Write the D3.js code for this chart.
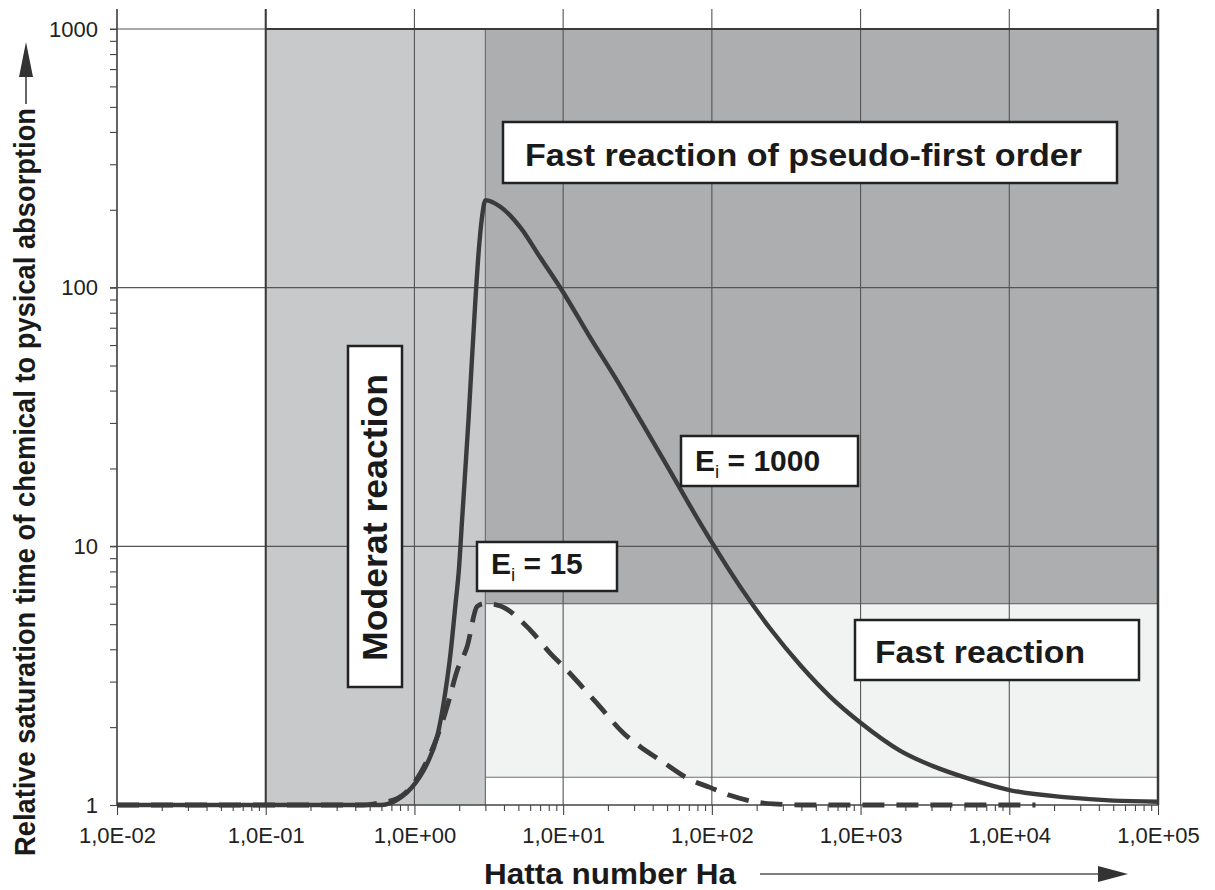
<!DOCTYPE html>
<html>
<head>
<meta charset="utf-8">
<script src="https://cdn.jsdelivr.net/npm/d3@7"></script>
<style>
  body { margin: 0; background: #fff; }
  svg { display: block; }
</style>
</head>
<body>
<div id="chart"></div>
<script>
// x axis: Hatta number (log), y axis: relative saturation time (log)
const haTicks = [1e-2, 1e-1, 1e0, 1e1, 1e2, 1e3, 1e4, 1e5];
const haTickLabels = ["1,0E-02", "1,0E-01", "1,0E+00", "1,0E+01", "1,0E+02", "1,0E+03", "1,0E+04", "1,0E+05"];
const ratioTicks = [1, 10, 100, 1000];
const ratioTickLabels = ["1", "10", "100", "1000"];

// E_i = 1000 (solid)
const haSolid = [0.01, 0.1, 0.3, 0.45, 0.59, 0.77, 1.02, 1.22, 1.42, 1.61, 1.75, 1.89, 1.99, 2.09, 2.31, 2.57, 2.71, 2.85, 3.0, 3.8, 5.2, 7.0, 10, 15, 22.5, 33, 49, 72, 100, 156, 248, 395, 626, 1000, 1850, 3100, 5200, 10200, 24500, 50000, 100000];
const e1000 = [1, 1, 1, 1, 1.0, 1.05, 1.22, 1.45, 1.83, 2.71, 3.87, 6.0, 8.1, 12.6, 30.8, 89.5, 140, 188, 218, 205, 170, 131, 96, 65, 44.7, 30.8, 20.9, 14.2, 10.35, 6.94, 4.79, 3.46, 2.62, 2.08, 1.62, 1.41, 1.27, 1.14, 1.07, 1.04, 1.03];

// E_i = 15 (dashed)
const haDashed = [0.01, 0.1, 0.3, 0.45, 0.59, 0.77, 0.99, 1.22, 1.42, 1.66, 1.94, 2.26, 2.64, 2.92, 3.6, 6.0, 8.2, 10.1, 16.9, 25.6, 33, 45, 72, 97, 132, 258, 470, 1000, 15000];
const e15 = [1, 1, 1, 1, 1.02, 1.06, 1.21, 1.49, 1.83, 2.4, 3.32, 4.09, 5.85, 6.0, 5.93, 4.75, 3.86, 3.42, 2.47, 1.89, 1.68, 1.49, 1.25, 1.17, 1.09, 1.01, 1.0, 1.0, 1.0];

// regime boundaries
const regionHa = [0.1, 3, 1e5];
const regionRatio = [1000, 6, 1.28];

const W = 1215, H = 890;
const plotL = 117, plotR = 1158, plotT = 29, plotB = 805;
const lineColor = "#3b3b3b";
const font = "'Liberation Sans', Arial, Helvetica, sans-serif";

const svg = d3.select("#chart").append("svg")
  .attr("width", W).attr("height", H)
  .style("font-family", font);

const x = d3.scaleLog().domain([1e-2, 1e5]).range([plotL, plotR]);
const y = d3.scaleLog().domain([1, 1000]).range([plotB, plotT]);

// shaded regimes
svg.append("rect")
  .attr("x", x(regionHa[0])).attr("y", y(regionRatio[0]))
  .attr("width", x(regionHa[1]) - x(regionHa[0]))
  .attr("height", y(1) - y(regionRatio[0]))
  .attr("fill", "#c8c9cb");
svg.append("rect")
  .attr("x", x(regionHa[1])).attr("y", y(regionRatio[0]))
  .attr("width", x(regionHa[2]) - x(regionHa[1]))
  .attr("height", y(regionRatio[1]) - y(regionRatio[0]))
  .attr("fill", "#adaeb0");
svg.append("rect")
  .attr("x", x(regionHa[1])).attr("y", y(regionRatio[1]))
  .attr("width", x(regionHa[2]) - x(regionHa[1]))
  .attr("height", y(regionRatio[2]) - y(regionRatio[1]))
  .attr("fill", "#f1f2f2");

// inner boundaries
const inner = svg.append("g").attr("stroke", "#707070").attr("stroke-width", 1.2);
inner.append("line")
  .attr("x1", x(regionHa[1])).attr("x2", x(regionHa[1]))
  .attr("y1", y(regionRatio[0])).attr("y2", y(1));
inner.append("line")
  .attr("x1", x(regionHa[1])).attr("x2", x(regionHa[2]))
  .attr("y1", y(regionRatio[1])).attr("y2", y(regionRatio[1]));
inner.append("line")
  .attr("x1", x(regionHa[1])).attr("x2", x(regionHa[2]))
  .attr("y1", y(regionRatio[2])).attr("y2", y(regionRatio[2]));

// grid
const grid = svg.append("g").attr("stroke", "#555").attr("stroke-width", 1.1);
grid.selectAll("line.v").data(haTicks).enter().append("line")
  .attr("x1", d => x(d)).attr("x2", d => x(d))
  .attr("y1", plotT - 20).attr("y2", plotB);
grid.selectAll("line.h").data(ratioTicks.slice(1)).enter().append("line")
  .attr("x1", plotL - 7).attr("x2", plotR)
  .attr("y1", d => y(d)).attr("y2", d => y(d));

// dark borders of the regime block
const border = svg.append("g").attr("stroke", "#3a3a3a").attr("stroke-width", 2).attr("fill", "none");
border.append("line")
  .attr("x1", x(regionHa[0])).attr("x2", x(regionHa[0]))
  .attr("y1", plotT - 20).attr("y2", plotB);
border.append("line")
  .attr("x1", x(regionHa[0])).attr("x2", plotR)
  .attr("y1", y(regionRatio[0])).attr("y2", y(regionRatio[0]));
border.append("line")
  .attr("x1", plotR).attr("x2", plotR)
  .attr("y1", plotT - 20).attr("y2", plotB)
  .attr("stroke-width", 2.5);

// axes
const minorX = x.ticks().filter(d => !haTicks.includes(d));
const minorY = y.ticks().filter(d => !ratioTicks.includes(d));

const xMinor = svg.append("g").attr("transform", `translate(0,${plotB})`)
  .call(d3.axisBottom(x).tickValues(minorX).tickSize(6).tickFormat(""));
const xMajor = svg.append("g").attr("transform", `translate(0,${plotB})`)
  .call(d3.axisBottom(x).tickValues(haTicks).tickSize(10).tickPadding(12)
    .tickFormat((d, i) => haTickLabels[i]));
const yMinor = svg.append("g").attr("transform", `translate(${plotL},0)`)
  .call(d3.axisLeft(y).tickValues(minorY).tickSize(7).tickFormat(""));
const yMajor = svg.append("g").attr("transform", `translate(${plotL},0)`)
  .call(d3.axisLeft(y).tickValues(ratioTicks).tickSize(7).tickPadding(12)
    .tickFormat((d, i) => ratioTickLabels[i]));

[xMinor, xMajor, yMinor, yMajor].forEach(g => {
  g.select(".domain").remove();
  g.selectAll(".tick line").attr("stroke", "#444").attr("stroke-width", 1.1);
  g.selectAll("text").attr("fill", "#222").style("font-size", "22px").style("font-family", font);
});

// axis lines
svg.append("line").attr("x1", plotL).attr("x2", plotL)
  .attr("y1", plotT - 20).attr("y2", plotB)
  .attr("stroke", "#444").attr("stroke-width", 1.3);
svg.append("line").attr("x1", plotL).attr("x2", plotR)
  .attr("y1", plotB).attr("y2", plotB)
  .attr("stroke", "#444").attr("stroke-width", 1.3);

// curves
const line = d3.line()
  .x(d => x(d[0]))
  .y(d => y(d[1]))
  .curve(d3.curveMonotoneX);

svg.append("path")
  .datum(d3.zip(haDashed, e15))
  .attr("d", line)
  .attr("fill", "none")
  .attr("stroke", lineColor)
  .attr("stroke-width", 4.8)
  .attr("stroke-dasharray", "22,12");

svg.append("path")
  .datum(d3.zip(haSolid, e1000))
  .attr("d", line)
  .attr("fill", "none")
  .attr("stroke", lineColor)
  .attr("stroke-width", 4.4);

// annotation boxes
function box(x0, y0, w, h) {
  svg.append("rect")
    .attr("x", x0).attr("y", y0).attr("width", w).attr("height", h)
    .attr("fill", "#fff").attr("stroke", "#222").attr("stroke-width", 2.5);
}

box(503, 122, 614, 61);
svg.append("text")
  .attr("x", 525).attr("y", 166)
  .attr("textLength", 557).attr("lengthAdjust", "spacingAndGlyphs")
  .style("font-size", "32px").style("font-weight", "bold").attr("fill", "#1a1a1a")
  .text("Fast reaction of pseudo-first order");

box(855, 620, 284, 60);
svg.append("text")
  .attr("x", 875).attr("y", 663)
  .attr("textLength", 210).attr("lengthAdjust", "spacingAndGlyphs")
  .style("font-size", "32px").style("font-weight", "bold").attr("fill", "#1a1a1a")
  .text("Fast reaction");

box(348, 346, 54, 341);
svg.append("text")
  .attr("transform", "translate(387,661) rotate(-90)")
  .attr("textLength", 287).attr("lengthAdjust", "spacingAndGlyphs")
  .style("font-size", "35px").style("font-weight", "bold").attr("fill", "#1a1a1a")
  .text("Moderat reaction");

function eiLabel(x0, y0, w, h, tx, ty, value) {
  box(x0, y0, w, h);
  const t = svg.append("text").attr("x", tx).attr("y", ty)
    .style("font-size", "30px").style("font-weight", "bold").attr("fill", "#1a1a1a");
  t.append("tspan").text("E");
  t.append("tspan").attr("dy", 7).style("font-size", "19px").style("font-weight", "normal").text("i");
  t.append("tspan").attr("dy", -7).text(" = " + value);
}
eiLabel(681, 436, 177, 50, 695, 471, "1000");
eiLabel(477, 542, 140, 49, 491, 574, "15");

// axis titles
svg.append("text")
  .attr("transform", "translate(35,856) rotate(-90)")
  .attr("textLength", 748).attr("lengthAdjust", "spacingAndGlyphs")
  .style("font-size", "29px").style("font-weight", "bold").attr("fill", "#1a1a1a")
  .text("Relative saturation time of chemical to pysical absorption");
svg.append("line").attr("x1", 26).attr("x2", 26).attr("y1", 104).attr("y2", 74)
  .attr("stroke", "#333").attr("stroke-width", 1.5);
svg.append("path").attr("d", "M26,42 L19,77 L33,77 Z").attr("fill", "#333");

svg.append("text")
  .attr("x", 484).attr("y", 884)
  .attr("textLength", 252).attr("lengthAdjust", "spacingAndGlyphs")
  .style("font-size", "30px").style("font-weight", "bold").attr("fill", "#1a1a1a")
  .text("Hatta number Ha");
svg.append("line").attr("x1", 760).attr("x2", 1100).attr("y1", 874).attr("y2", 874)
  .attr("stroke", "#555").attr("stroke-width", 1.5);
svg.append("path").attr("d", "M1128,874 L1098,866 L1098,882 Z").attr("fill", "#333");
</script>
</body>
</html>
